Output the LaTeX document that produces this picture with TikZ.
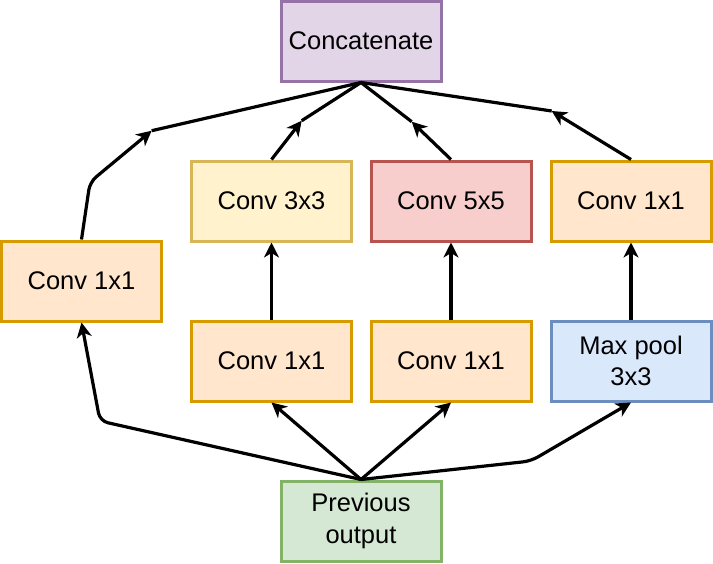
\documentclass[tikz,border=0pt]{standalone}
\usepackage{fontspec}
\setmainfont{Liberation Sans}
\usetikzlibrary{arrows.meta}
\definecolor{orF}{HTML}{FFE6CC}\definecolor{orD}{HTML}{D79B00}
\definecolor{yeF}{HTML}{FFF2CC}\definecolor{yeD}{HTML}{D6B656}
\definecolor{reF}{HTML}{F8CECC}\definecolor{reD}{HTML}{B85450}
\definecolor{blF}{HTML}{DAE8FC}\definecolor{blD}{HTML}{6C8EBF}
\definecolor{grF}{HTML}{D5E8D4}\definecolor{grD}{HTML}{82B366}
\definecolor{puF}{HTML}{E1D5E7}\definecolor{puD}{HTML}{9673A6}
\tikzset{
  box/.style={draw, line width=3pt, minimum width=160pt, minimum height=80pt,
    inner sep=0pt, align=center, font=\fontsize{25.5}{31.5}\selectfont},
  orbox/.style={box, fill=orF, draw=orD},
  yebox/.style={box, fill=yeF, draw=yeD},
  rebox/.style={box, fill=reF, draw=reD},
  blbox/.style={box, fill=blF, draw=blD},
  grbox/.style={box, fill=grF, draw=grD},
  pubox/.style={box, fill=puF, draw=puD},
  ln/.style={line width=3.2pt, draw=black, rounded corners=8pt},
  arr/.style={-{Stealth[length=15pt,width=15pt,inset=4.5pt]}}
}
\begin{document}
\begin{tikzpicture}[x=1pt,y=-1pt]
\useasboundingbox (0,0) rectangle (713,563);
\node[pubox] (concat) at (361,41) {Concatenate};
\node[orbox] (left) at (81.5,281) {Conv 1x1};
\node[yebox] (c3) at (271.5,201) {Conv 3x3};
\node[rebox] (c5) at (451,201) {Conv 5x5};
\node[orbox] (cr) at (631,201) {Conv 1x1};
\node[orbox] (c1a) at (271.5,361) {Conv 1x1};
\node[orbox] (c1b) at (451,361) {Conv 1x1};
\node[blbox] (mp) at (631,361) {Max pool\\3x3};
\node[grbox] (prev) at (361,521) {Previous\\output};
\coordinate (a1) at (151.7,130.7);
\coordinate (a2) at (301.7,120.7);
\coordinate (a3) at (411.7,121.7);
\coordinate (a4) at (551.7,111);
\coordinate (w1) at (90,182);
\coordinate (w2) at (100,421);
\coordinate (w3) at (531,461);
% top
\draw[ln,arr] (left.north) -- (w1) -- (a1);
\draw[ln] (a1) -- (concat.south);
\draw[ln,arr] (c3.north) -- (a2);
\draw[ln] (a2) -- (concat.south);
\draw[ln,arr] (c5.north) -- (a3);
\draw[ln] (a3) -- (concat.south);
\draw[ln,arr] (cr.north) -- (a4);
\draw[ln] (a4) -- (concat.south);
% middle
\draw[ln,arr] (c1a.north) -- (c3.south);
\draw[ln,arr] (c1b.north) -- (c5.south);
\draw[ln,arr] (mp.north) -- (cr.south);
% bottom
\draw[ln,arr] (prev.north) -- (w2) -- (left.south);
\draw[ln,arr] (prev.north) -- (c1a.south);
\draw[ln,arr] (prev.north) -- (c1b.south);
\draw[ln,arr] (prev.north) -- (w3) -- (mp.south);
\end{tikzpicture}
\end{document}
